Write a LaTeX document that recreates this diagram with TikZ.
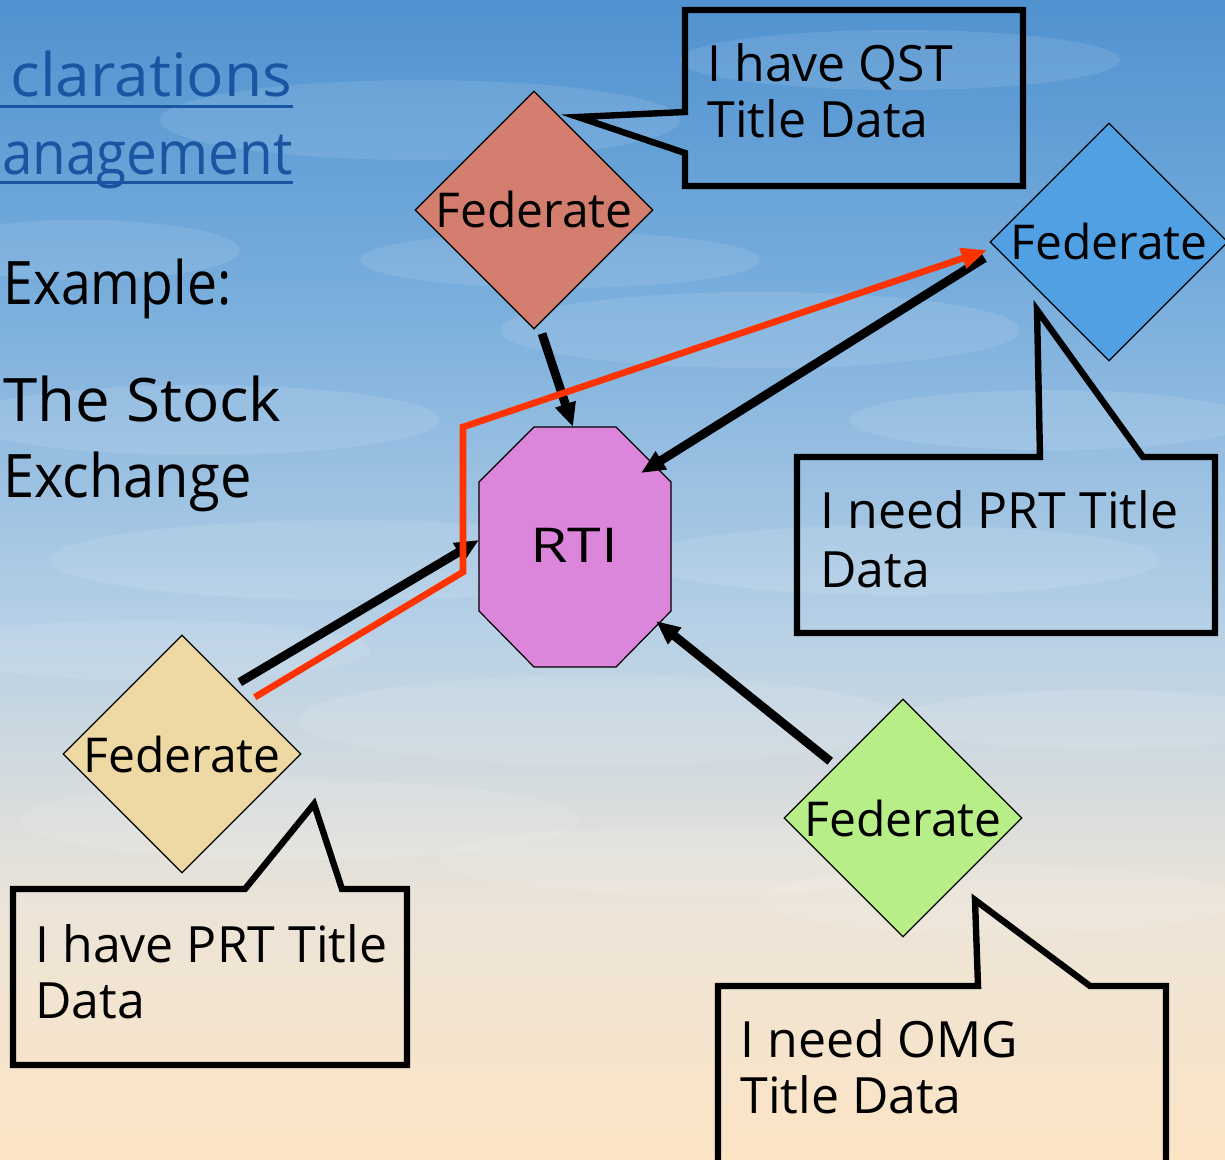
\documentclass[tikz,border=0pt]{standalone}
\usepackage{fontspec}
\setmainfont{Open Sans}
\usetikzlibrary{shapes.geometric,arrows.meta,calc}
\definecolor{skyA}{RGB}{252,228,196}
\definecolor{skyB}{RGB}{236,228,216}
\definecolor{skyC}{RGB}{182,208,230}
\definecolor{skyD}{RGB}{118,172,220}
\definecolor{skyE}{RGB}{80,146,208}
\definecolor{fedpink}{RGB}{211,125,110}
\definecolor{fedblue}{RGB}{80,160,227}
\definecolor{fedtan}{RGB}{238,217,164}
\definecolor{fedgreen}{RGB}{184,238,136}
\definecolor{rticol}{RGB}{219,133,219}
\definecolor{redline}{RGB}{255,51,0}
\definecolor{linkblue}{RGB}{26,85,162}
\pgfdeclareverticalshading{sky}{100bp}{color(0bp)=(skyA); color(25bp)=(skyA); color(36bp)=(skyB); color(48bp)=(skyC); color(63bp)=(skyD); color(75bp)=(skyE); color(100bp)=(skyE)}
\begin{document}
\begin{tikzpicture}[x=0.5pt,y=-0.5pt,
  fedbox/.style={diamond, draw=black, line width=0.6pt, minimum width=119pt, minimum height=119pt, inner sep=0pt},
  lbl/.style={font=\fontsize{24}{28}\selectfont, inner sep=0pt},
  say/.style={font=\fontsize{25}{30}\selectfont, inner sep=0pt},
  big/.style={font=\fontsize{30}{36}\selectfont, inner sep=0pt},
  arr/.style={line width=4.4pt, -{Triangle[length=12pt,width=10pt]}},
  redpath/.style={draw=redline, line width=3.3pt, -{Triangle[length=13pt,width=10pt]}},
  callout/.style={draw=black, line width=3.2pt, miter limit=20},
  cloud/.style={fill=white, opacity=0.1}]
\useasboundingbox (0,0) rectangle (1225,1160);
\clip (0,0) rectangle (1225,1160);
\shade[shading=sky] (0,0) rectangle (1225,1160);
% soft cloud texture
\fill[cloud] (420,120) ellipse (260 and 40);
\fill[cloud] (900,60) ellipse (220 and 30);
\fill[cloud] (200,420) ellipse (240 and 35);
\fill[cloud] (760,330) ellipse (260 and 38);
\fill[cloud] (1050,420) ellipse (200 and 30);
\fill[cloud] (350,560) ellipse (300 and 40);
\fill[cloud] (900,560) ellipse (260 and 35);
\fill[cloud] (150,650) ellipse (220 and 30);
\fill[cloud] (600,720) ellipse (300 and 45);
\fill[cloud] (1100,720) ellipse (200 and 30);
\fill[cloud] (300,820) ellipse (280 and 40);
\fill[cloud] (700,860) ellipse (260 and 35);
\fill[cloud] (1000,900) ellipse (240 and 35);
\fill[cloud] (560,260) ellipse (200 and 28);
\fill[cloud] (80,250) ellipse (160 and 30);

% left slide text
\node[big, text=linkblue, anchor=base west] (h1) at (10,97) {\resizebox{141pt}{\height}{clarations}};
\node[big, text=linkblue, anchor=base west] (h2) at (2,175) {\resizebox{145pt}{\height}{anagement}};
\coordinate (u1) at (0,107);
\coordinate (u2) at (0,183);
\draw[linkblue, line width=1.5pt] (u1) -- (u1 -| h1.east);
\draw[linkblue, line width=1.5pt] (u2) -- (u2 -| h2.east);
\node[big, anchor=base west] (ex) at (3,305) {\resizebox{114pt}{\height}{Example:}};
\node[big, anchor=base west] (st1) at (3,421) {\resizebox{139pt}{\height}{The Stock}};
\node[big, anchor=base west] (st2) at (3,497) {\resizebox{124pt}{\height}{Exchange}};

% callouts
\draw[callout] (685,112) -- (685,10) -- (1023,10) -- (1023,186) -- (685,186) -- (685,153) -- (578,117) -- cycle;
\draw[callout] (1040,457) -- (1037,310) -- (1143,457) -- (1215,457) -- (1215,633) -- (797,633) -- (797,457) -- cycle;
\draw[callout] (245,889) -- (314,804) -- (342,889) -- (407,889) -- (407,1065) -- (13,1065) -- (13,889) -- cycle;
\draw[callout] (978,986) -- (975,900) -- (1090,986) -- (1166,986) -- (1166,1175) -- (718,1175) -- (718,986) -- cycle;
\node[say, anchor=base west] (q1) at (707,82) {I have QST};
\node[say, anchor=base west] (q2) at (707,138) {Title Data};
\node[say, anchor=base west] (p1) at (820,528) {I need PRT Title};
\node[say, anchor=base west] (p2) at (820,587) {Data};
\node[say, anchor=base west] (r1) at (35,962) {I have PRT Title};
\node[say, anchor=base west] (r2) at (35,1018) {Data};
\node[say, anchor=base west] (o1) at (740,1057) {I need OMG};
\node[say, anchor=base west] (o2) at (740,1113) {Title Data};

% federates
\node[fedbox, fill=fedpink] (f1) at (534,210) {};
\node[fedbox, fill=fedblue] (f2) at (1109,242) {};
\node[fedbox, fill=fedtan] (f3) at (182,754) {};
\node[fedbox, fill=fedgreen] (f4) at (903,818) {};
\node[lbl] (t1) at (f1) {Federate};
\node[lbl] (t2) at (f2) {Federate};
\node[lbl] (t3) at (f3) {Federate};
\node[lbl] (t4) at (f4) {Federate};

% RTI
\draw[fill=rticol, line width=0.6pt] (534,427) -- (616,427) -- (671,482) -- (671,611) -- (616,667) -- (534,667) -- (479,611) -- (479,482) -- cycle;
\node[lbl] (rti) at (574,545) {\resizebox{44pt}{\height}{RTI}};
\coordinate (rN) at (573,427);
\coordinate (rNE) at (641,473);
\coordinate (rW) at (479,540);
\coordinate (rSE) at (656,621);

% connectors
\draw[arr] ($(f1.south)+(8,4)$) -- (rN);
\draw[arr] ($(f2.west)+(-5,16)$) -- (rNE);
\draw[arr] ($(f3.north east)+(-2,-12)$) -- (rW);
\draw[arr] ($(f4.north west)+(-13,3)$) -- (rSE);
\coordinate (b1) at (463,572);
\coordinate (b2) at (463,427);
\draw[redpath] ($(f3.north east)+(13,3)$) -- (b1) -- (b2) -- ($(f2.west)+(-2,8)$);
\end{tikzpicture}
\end{document}
